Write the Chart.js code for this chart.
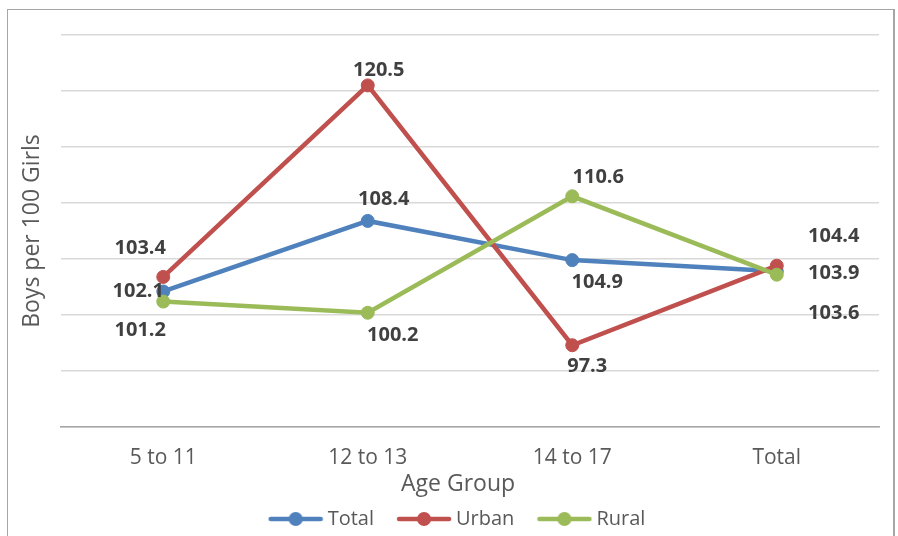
<!DOCTYPE html>
<html>
<head>
<meta charset="utf-8">
<script src="https://cdn.jsdelivr.net/npm/chart.js@4/dist/chart.umd.min.js"></script>
<style>
  html, body { margin: 0; padding: 0; background: #ffffff; }
  #wrap { position: relative; width: 898px; height: 536px; overflow: hidden; }
  #frame {
    position: absolute; left: 7px; top: 9px; width: 885px; height: 600px;
    border-left: 1.5px solid #a6a6a6; border-top: 1.5px solid #a6a6a6;
    border-right: 2.5px solid #a6a6a6; pointer-events: none;
  }
  #chart { position: absolute; left: 0; top: 0; }
</style>
</head>
<body>
<div id="wrap">
  <canvas id="chart" width="898" height="536"></canvas>
  <div id="frame"></div>
</div>
<script>
// Sex ratio (boys per 100 girls) by age group
const categories = ['5 to 11', '12 to 13', '14 to 17', 'Total'];
const totalValues = [102.1, 108.4, 104.9, 103.9];
const urbanValues = [103.4, 120.5, 97.3, 104.4];
const ruralValues = [101.2, 100.2, 110.6, 103.6];
const seriesNames = ['Total', 'Urban', 'Rural'];
const yMin = 90, yMax = 125, yStep = 5;

const COLORS = ['#4f81bd', '#c0504d', '#9bbb59'];
const FONT = '"Open Sans", "Liberation Sans", sans-serif';

// where each value label sits relative to its point (dx, dy in px)
const labelPlacement = [
  [[-25, 0], [16, -22], [25, 22], [57, 2]],
  [[-23, -29], [11, -15], [15, 21], [57, -29]],
  [[-23, 29], [25, 23], [26, -19], [57, 39]]
];

// legend swatch: a short line with a dot in the middle
function legendMarker(color) {
  const c = document.createElement('canvas');
  c.width = 56; c.height = 16;
  const g = c.getContext('2d');
  g.strokeStyle = color; g.lineWidth = 4.5; g.lineCap = 'round';
  g.beginPath(); g.moveTo(3, 8); g.lineTo(53, 8); g.stroke();
  g.fillStyle = color;
  g.beginPath(); g.arc(28, 8, 7, 0, Math.PI * 2); g.fill();
  return c;
}
const markers = COLORS.map(legendMarker);

const valueLabels = {
  id: 'valueLabels',
  afterDatasetsDraw(chart) {
    const ctx = chart.ctx;
    ctx.save();
    ctx.font = 'bold 20px ' + FONT;
    ctx.fillStyle = '#404040';
    ctx.textAlign = 'center';
    ctx.textBaseline = 'middle';
    chart.data.datasets.forEach((ds, di) => {
      const meta = chart.getDatasetMeta(di);
      meta.data.forEach((pt, i) => {
        const [dx, dy] = labelPlacement[di][i];
        ctx.fillText(ds.data[i].toFixed(1), pt.x + dx, pt.y + dy);
      });
    });
    ctx.restore();
  }
};

function makeSeries(name, values, idx, order) {
  return {
    label: name,
    data: values,
    borderColor: COLORS[idx],
    backgroundColor: COLORS[idx],
    pointBackgroundColor: COLORS[idx],
    pointBorderColor: COLORS[idx],
    borderWidth: 4.5,
    pointRadius: 6.5,
    pointBorderWidth: 1,
    tension: 0,
    order: order
  };
}

function build() {
  new Chart(document.getElementById('chart'), {
    type: 'line',
    data: {
      labels: categories,
      datasets: [
        makeSeries(seriesNames[0], totalValues, 0, 2),
        makeSeries(seriesNames[1], urbanValues, 1, 1),
        makeSeries(seriesNames[2], ruralValues, 2, 0)
      ]
    },
    options: {
      responsive: false,
      animation: false,
      events: [],
      layout: { padding: { top: 35, right: 19, left: 40, bottom: -3 } },
      plugins: {
        tooltip: { enabled: false },
        legend: {
          position: 'bottom',
          labels: {
            usePointStyle: true,
            pointStyleWidth: 44,
            boxHeight: 16,
            padding: 28,
            color: '#595959',
            font: { family: FONT, size: 20 },
            generateLabels(chart) {
              const items = Chart.defaults.plugins.legend.labels.generateLabels(chart);
              items.forEach(it => { it.pointStyle = markers[it.datasetIndex]; });
              return items.sort((a, b) => a.datasetIndex - b.datasetIndex);
            }
          }
        }
      },
      scales: {
        x: {
          offset: true,
          grid: { display: false, drawTicks: false },
          border: { display: true, color: '#a6a6a6', width: 1.5 },
          ticks: { color: '#595959', padding: 18, font: { family: FONT, size: 21 } },
          title: {
            display: true, text: 'Age Group    ', color: '#595959',
            font: { family: FONT, size: 23 }, padding: { top: 0, bottom: -17 }
          },
          afterFit(scale) { scale.height = 54; }
        },
        y: {
          min: yMin, max: yMax,
          ticks: { display: false, stepSize: yStep },
          grid: { color: '#d9d9d9', lineWidth: 1.5, drawTicks: false },
          border: { display: false },
          title: {
            display: true, text: 'Boys per 100 Girls', color: '#595959',
            font: { family: FONT, size: 23 }, padding: { top: -21, bottom: 0 }
          },
          afterFit(scale) { scale.width = 21; }
        }
      }
    },
    plugins: [valueLabels]
  });
}

Promise.all([
  document.fonts.load('20px "Open Sans"'),
  document.fonts.load('bold 20px "Open Sans"')
]).then(build, build);
</script>
</body>
</html>
